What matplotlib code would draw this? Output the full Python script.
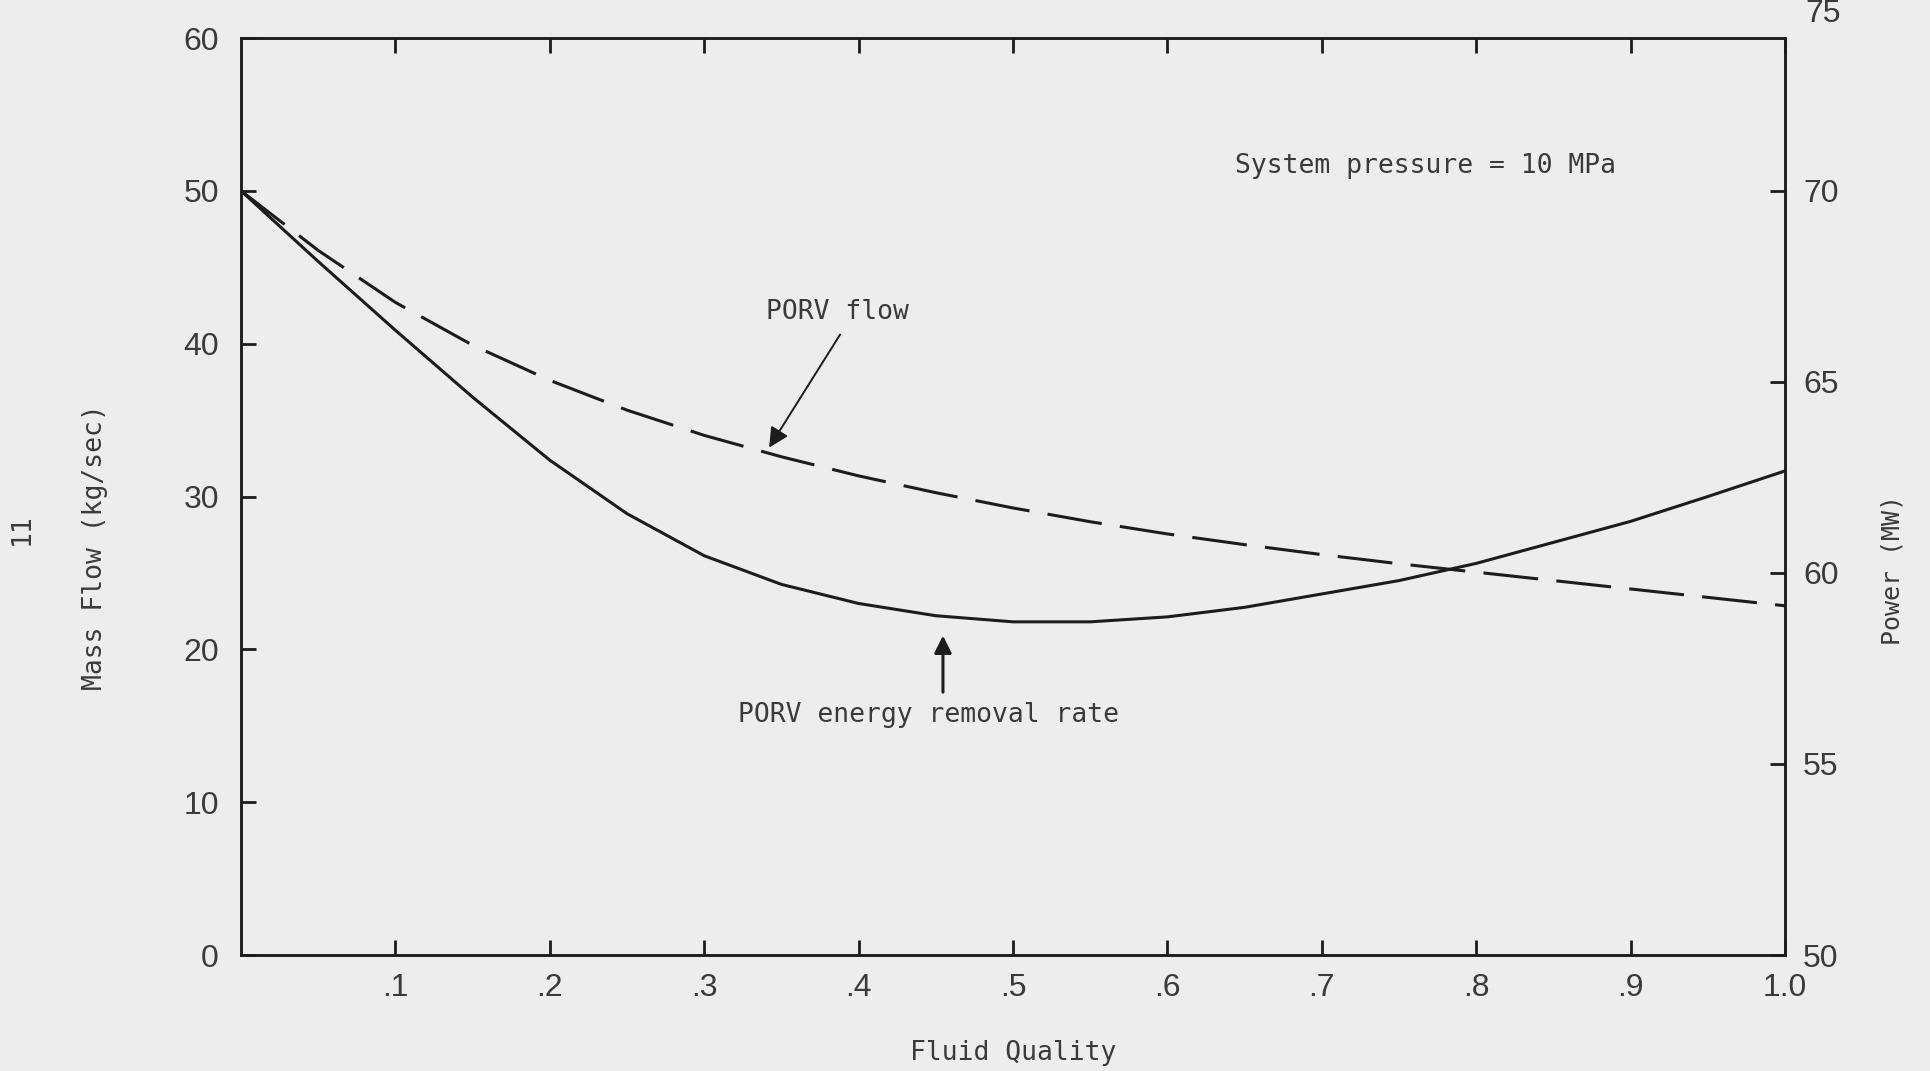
import numpy as np
import matplotlib
matplotlib.use('Agg')
import matplotlib.pyplot as plt

# values
quality = [0.0, 0.05, 0.1, 0.15, 0.2, 0.25, 0.3, 0.35, 0.4, 0.45, 0.5,
           0.55, 0.6, 0.65, 0.7, 0.75, 0.8, 0.85, 0.9, 0.95, 1.0]
porv_flow = [50.0, 46.1, 42.7, 39.9, 37.6, 35.65, 34.0, 32.6, 31.35, 30.25, 29.25,
             28.35, 27.55, 26.85, 26.2, 25.6, 25.05, 24.5, 23.95, 23.4, 22.85]
porv_power = [70.0, 68.15, 66.35, 64.6, 62.95, 61.55, 60.45, 59.7, 59.2, 58.88, 58.72,
              58.72, 58.85, 59.1, 59.45, 59.8, 60.25, 60.8, 61.35, 62.0, 62.67]

xticks = [0.1, 0.2, 0.3, 0.4, 0.5, 0.6, 0.7, 0.8, 0.9, 1.0]
xticklabels = ['.1', '.2', '.3', '.4', '.5', '.6', '.7', '.8', '.9', '1.0']
yticks_left = [0, 10, 20, 30, 40, 50, 60]
yticks_right = [50, 55, 60, 65, 70]

bg = '#ededed'
ink = '#1c1c1c'
txt = '#3a3a3a'
mono = ['DejaVu Sans Mono']
sans = ['Liberation Sans', 'DejaVu Sans']

plt.rcParams['font.family'] = mono

fig = plt.figure(figsize=(19.3, 10.71), dpi=100, facecolor=bg)
ax = fig.add_axes([0.1249, 0.1083, 0.8, 0.8562])
ax.set_facecolor(bg)
ax2 = ax.twinx()

ax.plot(quality, porv_flow, color=ink, lw=2.2, dashes=(18, 6))
ax2.plot(quality, porv_power, color=ink, lw=2.2)

ax.set_xlim(0, 1.0)
ax.set_ylim(0, 60)
ax2.set_ylim(50, 74)

ax.set_xticks(xticks)
ax.set_xticklabels(xticklabels)
ax.set_yticks(yticks_left)
ax2.set_yticks(yticks_right)

for a in (ax, ax2):
    for s in a.spines.values():
        s.set_linewidth(1.8)
        s.set_color(ink)

ax.tick_params(axis='both', direction='in', length=11, width=2.0, color=ink,
               labelsize=23, labelcolor=txt, top=True)
ax.tick_params(axis='x', pad=13)
ax.tick_params(axis='y', pad=16)
ax2.tick_params(axis='y', direction='in', length=11, width=2.0, color=ink,
                labelsize=23, labelcolor=txt, pad=13)
for lab in ax.get_xticklabels() + ax.get_yticklabels() + ax2.get_yticklabels():
    lab.set_family(sans)
ax2.text(1.013, 1.01, '75', transform=ax2.transAxes, fontsize=23, color=txt,
         ha='left', va='bottom', family=sans)

ax.set_xlabel('Fluid Quality', fontsize=19, color=txt)
ax.xaxis.set_label_coords(0.5, -0.093)
ax.set_ylabel('Mass Flow (kg/sec)', fontsize=19, color=txt)
ax.yaxis.set_label_coords(-0.086, 0.445)
ax2.set_ylabel('Power (MW)', fontsize=18, color=txt)
ax2.yaxis.set_label_coords(1.062, 0.42)

fig.text(0.0114, 0.506, '11', rotation=90, fontsize=19, color=txt,
         ha='center', va='center')

ax.text(0.644, 51.6, 'System pressure = 10 MPa', fontsize=19, color=txt,
        ha='left', va='center')
ax.text(0.386, 42.1, 'PORV flow', fontsize=19, color=txt,
        ha='center', va='center')
ax.annotate('', xy=(0.342, 33.2), xytext=(0.388, 40.6),
            arrowprops=dict(arrowstyle='-|>', color=ink, lw=1.4,
                            mutation_scale=30, shrinkA=0, shrinkB=0))
ax.text(0.445, 15.7, 'PORV energy removal rate', fontsize=19, color=txt,
        ha='center', va='center')
ax.annotate('', xy=(0.4546, 20.9), xytext=(0.4546, 17.2),
            arrowprops=dict(arrowstyle='-|>', color=ink, lw=2.2,
                            mutation_scale=26, shrinkA=0, shrinkB=0))

fig.savefig('out.png', dpi=100, facecolor=bg)
